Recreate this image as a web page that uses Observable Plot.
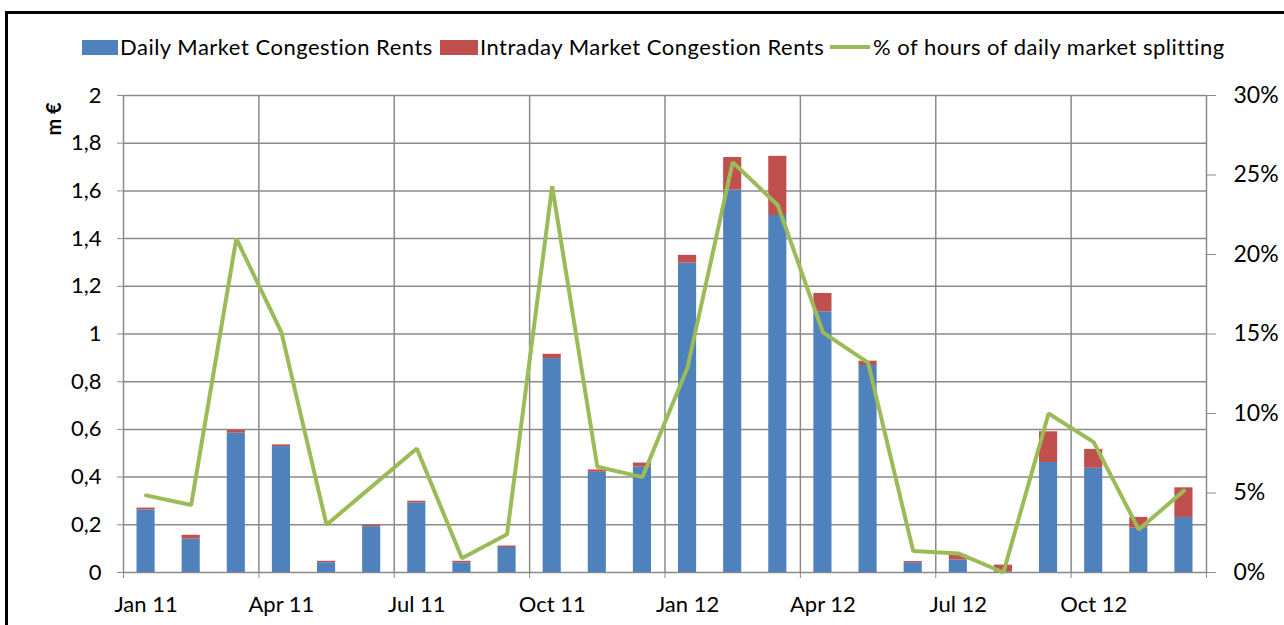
<!DOCTYPE html>
<html>
<head>
<meta charset="utf-8">
<script src="https://cdn.jsdelivr.net/npm/d3@7"></script>
<script src="https://cdn.jsdelivr.net/npm/@observablehq/plot@0.6"></script>
<style>
  html, body { margin: 0; padding: 0; background: #fff; }
  #wrap { position: relative; width: 1284px; height: 625px; overflow: hidden; font-family: Lato, "Liberation Sans", sans-serif; font-variant-ligatures: none; }
  #frame { position: absolute; left: 5px; top: 11px; width: 1300px; height: 700px; border-top: 3px solid #000; border-left: 3px solid #000; }
  .lg { position: absolute; font-size: 22px; letter-spacing: 0.5px; color: #000; white-space: nowrap; line-height: 1; }
  .sw { position: absolute; }
  #ytitle { position: absolute; left: 53px; top: 119px; transform: translate(-50%, -50%) rotate(-90deg); font-weight: bold; font-size: 20px; white-space: nowrap; }
  #chart svg { position: absolute; left: 0; top: 0; font-variant-ligatures: none; }
</style>
</head>
<body>
<div id="wrap">
  <div id="frame"></div>
  <div id="chart"></div>
  <div class="sw" style="left:82px;top:40px;width:36px;height:15px;background:#4F81BD"></div>
  <div class="lg" style="left:120px;top:36px">Daily Market Congestion Rents</div>
  <div class="sw" style="left:440px;top:40px;width:38px;height:15px;background:#C0504D"></div>
  <div class="lg" style="left:480px;top:36px">Intraday Market Congestion Rents</div>
  <div class="sw" style="left:830px;top:45px;width:40px;height:4px;background:#9BBB59"></div>
  <div class="lg" style="left:873px;top:36px">% of hours of daily market splitting</div>
  <div id="ytitle">m €</div>
</div>
<script>
const months = ["Jan 11","Feb 11","Mar 11","Apr 11","May 11","Jun 11","Jul 11","Aug 11","Sep 11","Oct 11","Nov 11","Dec 11",
                "Jan 12","Feb 12","Mar 12","Apr 12","May 12","Jun 12","Jul 12","Aug 12","Sep 12","Oct 12","Nov 12","Dec 12"];
const dailyRents = [0.262, 0.140, 0.584, 0.528, 0.041, 0.192, 0.292, 0.041, 0.105, 0.897, 0.420, 0.442,
                    1.297, 1.603, 1.497, 1.093, 0.868, 0.041, 0.052, 0.003, 0.461, 0.437, 0.186, 0.231];
const intradayRents = [0.008, 0.016, 0.012, 0.007, 0.006, 0.006, 0.007, 0.006, 0.006, 0.018, 0.010, 0.017,
                       0.033, 0.137, 0.248, 0.077, 0.018, 0.005, 0.021, 0.028, 0.129, 0.079, 0.045, 0.124];
const splittingPct = [4.85, 4.25, 21.0, 15.1, 3.0, 5.4, 7.8, 0.9, 2.4, 24.3, 6.65, 6.0,
                      12.9, 25.8, 23.1, 15.1, 13.2, 1.35, 1.2, 0.0, 10.0, 8.2, 2.7, 5.15];
const quarterLabels = ["Jan 11","Apr 11","Jul 11","Oct 11","Jan 12","Apr 12","Jul 12","Oct 12"];
const leftTicks = [0, 0.2, 0.4, 0.6, 0.8, 1, 1.2, 1.4, 1.6, 1.8, 2];
const rightTicks = [0, 5, 10, 15, 20, 25, 30];

const yMax = 2, pctMax = 30;
const rows = months.map((m, i) => ({i, m, d: dailyRents[i], r: intradayRents[i], p: splittingPct[i]}));
const qIdx = quarterLabels.map(q => months.indexOf(q));
const gridX = qIdx.concat([months.length]);
const grid = "#8a8a8a";
const fmtL = v => String(+v.toFixed(1)).replace(".", ",");

const chart = Plot.plot({
  width: 1284,
  height: 625,
  marginLeft: 123,
  marginRight: 78,
  marginTop: 95,
  marginBottom: 53,
  style: {fontFamily: "Lato, 'Liberation Sans', sans-serif", fontSize: "22px", background: "transparent", overflow: "visible"},
  x: {type: "linear", domain: [0, months.length], axis: null},
  y: {domain: [0, yMax], axis: null},
  marks: [
    Plot.ruleY(leftTicks, {stroke: grid, strokeWidth: 1.5}),
    Plot.ruleX(gridX, {stroke: grid, strokeWidth: 1.5}),
    Plot.rect(rows, {x1: d => d.i, x2: d => d.i + 1, y1: 0, y2: d => d.d, fill: "#4F81BD", insetLeft: 13.5, insetRight: 13.5}),
    Plot.rect(rows, {x1: d => d.i, x2: d => d.i + 1, y1: d => d.d, y2: d => d.d + d.r, fill: "#C0504D", insetLeft: 13.5, insetRight: 13.5}),
    Plot.line(rows, {x: d => d.i + 0.5, y: d => d.p / pctMax * yMax, stroke: "#9BBB59", strokeWidth: 4, strokeLinejoin: "miter", curve: "linear"}),
    Plot.axisY({ticks: leftTicks, tickFormat: fmtL, anchor: "left", tickSize: 6, tickPadding: 16, stroke: grid, fill: "#000", fontSize: 22}),
    Plot.axisY({ticks: rightTicks.map(v => v / pctMax * yMax), tickFormat: v => Math.round(v / yMax * pctMax) + "%", anchor: "right", tickSize: 9, tickPadding: 18, stroke: grid, fill: "#000", fontSize: 23}),
    Plot.axisX({ticks: gridX, tickFormat: () => "", anchor: "bottom", tickSize: 6, stroke: grid}),
    Plot.axisX({ticks: qIdx.map(i => i + 0.5), tickFormat: v => months[Math.round(v - 0.5)], anchor: "bottom", tickSize: 0, tickPadding: 24, fill: "#000", fontSize: 22})
  ]
});
document.getElementById("chart").appendChild(chart);
</script>
</body>
</html>
